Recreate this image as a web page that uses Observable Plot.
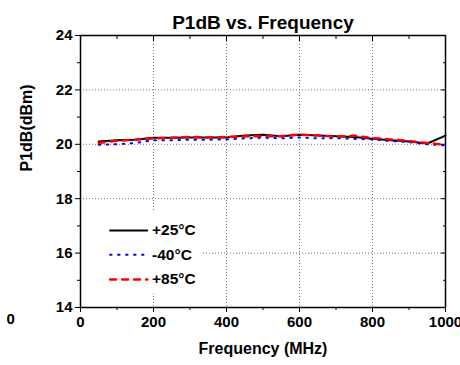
<!DOCTYPE html>
<html><head><meta charset="utf-8">
<script src="https://cdn.jsdelivr.net/npm/d3@7"></script>
<script src="https://cdn.jsdelivr.net/npm/@observablehq/plot@0.6"></script>
<style>body{margin:0;background:#fff}</style>
</head><body><div id="chart"></div>
<script>
const freq = [50,100,150,200,250,300,350,400,450,500,550,600,650,700,750,800,850,900,950,1000];
const p25 = [20.10,20.15,20.17,20.24,20.24,20.25,20.25,20.25,20.32,20.35,20.30,20.35,20.32,20.30,20.27,20.20,20.15,20.10,20.03,20.32];
const m40 = [19.98,20.00,20.05,20.15,20.15,20.17,20.17,20.18,20.22,20.24,20.22,20.25,20.22,20.23,20.20,20.18,20.12,20.08,20.00,19.96];
const p85 = [20.05,20.13,20.17,20.22,20.24,20.27,20.25,20.27,20.29,20.30,20.30,20.36,20.33,20.27,20.32,20.23,20.18,20.12,20.05,19.98];
const seriesNames = ["+25°C","-40°C","+85°C"];
const xMajor = [0,200,400,600,800,1000];
const xMinor = [100,300,500,700,900];
const yMajor = [14,16,18,20,22,24];
const yMinor = [15,17,19,21,23];

const rows = (vals) => freq.map((f,i)=>({f, v: vals[i]}));
const legendY = [16.83, 15.94, 15.03];
const legend = seriesNames.map((n,i)=>({n, y: legendY[i]}));
const styles = [
  {stroke:"#000", strokeWidth:2, strokeDasharray:null},
  {stroke:"#0000ff", strokeWidth:2, strokeDasharray:"1.5,6.5"},
  {stroke:"#ff0000", strokeWidth:2.5, strokeDasharray:"6,6"}
];
const font = "Liberation Sans, Arial, sans-serif";

const chart = Plot.plot({
  width: 460, height: 365,
  marginTop: 35, marginLeft: 80, marginRight: 15, marginBottom: 58,
  style: {fontFamily: font, fontWeight: "bold", fontSize: "15px", color: "#000", background: "#fff"},
  x: {domain: [0,1000]},
  y: {domain: [14,24]},
  marks: [
    Plot.gridX([200,400,600,800], {stroke:"#777", strokeOpacity:1, strokeDasharray:"1,2"}),
    Plot.gridY([16,18,20,22], {stroke:"#777", strokeOpacity:1, strokeDasharray:"1,2"}),
    Plot.rect([{}], {x1: 0, x2: 336, y1: 14.5, y2: 17.55, fill: "#fff"}),
    Plot.axisX(xMajor, {tickSize:5, tickPadding:4, label:null, fontSize:15, fontWeight:"bold", tickFormat: d => String(d)}),
    Plot.axisX(xMinor, {tickSize:3, text:null, label:null}),
    Plot.axisX(xMajor, {anchor:"top", tickSize:-5, text:null, label:null}),
    Plot.axisX(xMinor, {anchor:"top", tickSize:-3, text:null, label:null}),
    Plot.axisY(yMajor, {tickSize:5, tickPadding:3, label:null, fontSize:15, fontWeight:"bold"}),
    Plot.axisY(yMinor, {tickSize:3, text:null, label:null}),
    Plot.axisY(yMajor, {anchor:"right", tickSize:-5, text:null, label:null}),
    Plot.axisY(yMinor, {anchor:"right", tickSize:-3, text:null, label:null}),
    Plot.line(rows(p25), {x:"f", y:"v", ...styles[0]}),
    Plot.line(rows(m40), {x:"f", y:"v", ...styles[1]}),
    Plot.line(rows(p85), {x:"f", y:"v", ...styles[2]}),
    ...legend.map((d,i)=>Plot.line([{x:81,y:d.y},{x:183,y:d.y}], {x:"x", y:"y", ...styles[i]})),
    Plot.text(legend, {x: ()=>196, y:"y", text:"n", textAnchor:"start", fontSize:15.5, fontWeight:"bold"}),
    Plot.frame({stroke:"#000", strokeWidth:1.5}),
    Plot.text(["P1dB vs. Frequency"], {frameAnchor:"top", dy:-20, fontSize:19, fontWeight:"bold"}),
    Plot.text(["Frequency (MHz)"], {frameAnchor:"bottom", dy:46, fontSize:16, fontWeight:"bold"}),
    Plot.text(["P1dB(dBm)"], {frameAnchor:"left", dx:-54, rotate:-90, fontSize:16, fontWeight:"bold"}),
    Plot.text(["0"], {frameAnchor:"bottom-left", dx:-74, dy:16, fontSize:15, fontWeight:"bold"})
  ]
});
document.getElementById("chart").appendChild(chart);
</script>
</body></html>
